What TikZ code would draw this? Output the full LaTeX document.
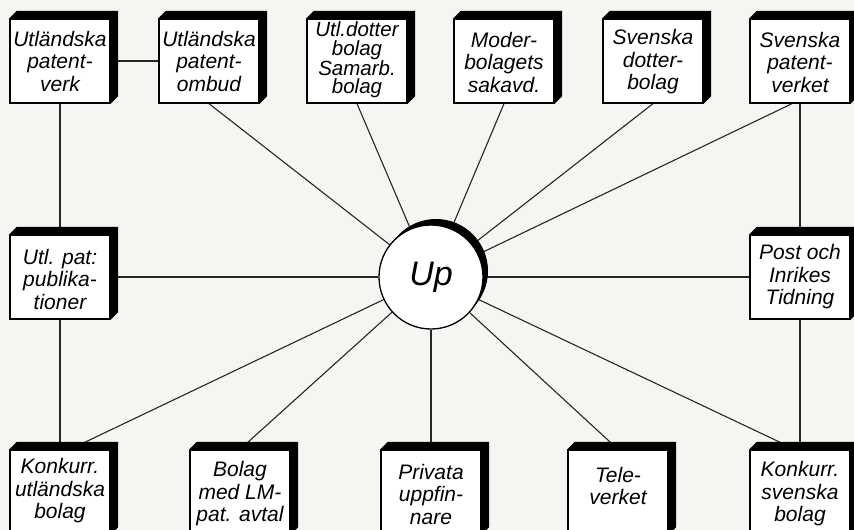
\documentclass[tikz,border=0pt]{standalone}
\usepackage{fontspec}
\setmainfont{Liberation Sans}
\usetikzlibrary{calc}
\pgfdeclarelayer{bg}
\pgfdeclarelayer{paperlayer}
\pgfsetlayers{paperlayer,bg,main}
\definecolor{paper}{RGB}{245,245,242}
\tikzset{
  box/.style={draw=black, line width=1.3pt, fill=white, minimum width=100pt, minimum height=84pt, inner sep=0pt},
  lbl/.style={align=center, font=\fontsize{21}{22.5}\selectfont\itshape, inner sep=0pt},
  lblfour/.style={align=center, font=\fontsize{20.5}{18.5}\selectfont\itshape, inner sep=0pt},
  conn/.style={line width=1.1pt, black!85},
  shade/.style={fill=black},
  hub/.style={circle, draw=black, line width=1.3pt, fill=white, minimum size=104pt, inner sep=0pt, font=\fontsize{34}{34}\selectfont\itshape},
}
\newcommand{\boxshade}[1]{\fill[shade] (#1.north west) -- ($(#1.north west)+(7.5,-7.5)$) -- ($(#1.north east)+(7.5,-7.5)$) -- ($(#1.south east)+(7.5,-7.5)$) -- (#1.south east) -- (#1.north east) -- cycle;}
\begin{document}
\begin{tikzpicture}[x=1pt,y=-1pt]
\useasboundingbox (0,0) rectangle (854,530);
\clip (0,0) rectangle (854,530);
\begin{pgfonlayer}{paperlayer}
\fill[paper] (0,0) rectangle (854,530);
\end{pgfonlayer}

% boxes
\node[box] (t1) at (60,61) {};
\node[box] (t2) at (209,61) {};
\node[box] (t3) at (357,61) {};
\node[box] (t4) at (504,61) {};
\node[box] (t5) at (653,61) {};
\node[box] (t6) at (800,61) {};
\node[box] (m1) at (60,277) {};
\node[box] (m2) at (800,277) {};
\node[box] (b1) at (60,492) {};
\node[box] (b2) at (240,492) {};
\node[box] (b3) at (431,492) {};
\node[box] (b4) at (618,492) {};
\node[box] (b5) at (800,492) {};

% hub with crescent shadow
\fill[black] (436,271) circle [radius=52];
\node[hub] (Up) at (431,277) {Up};

% labels
\node[lbl] (t1l) at (60,61) {Utländska\\patent-\\verk};
\node[lbl] (t2l) at (209,61) {Utländska\\patent-\\ombud};
\node[lblfour] (t3l) at (357,60) {Utl.dotter\\bolag\\Samarb.\\bolag};
\node[lbl] (t4l) at (504,62) {Moder-\\bolagets\\sakavd.};
\node[lbl] (t5l) at (653,62) {Svenska\\dotter-\\bolag};
\node[lbl] (t6l) at (800,62) {Svenska\\patent-\\verket};
\node[lbl] (m1l) at (60,279) {Utl. pat:\\publika-\\tioner};
\node[lbl] (m2l) at (800,277) {Post och\\Inrikes\\Tidning};
\node[lbl] (b1l) at (60,491) {Konkurr.\\utländska\\bolag};
\node[lbl] (b2l) at (240,494) {Bolag\\med LM-\\pat. avtal};
\node[lbl] (b3l) at (431,494) {Privata\\uppfin-\\nare};
\node[lbl] (b4l) at (618,486) {Tele-\\verket};
\node[lbl] (b5l) at (800,494) {Konkurr.\\svenska\\bolag};

% connectors
\begin{pgfonlayer}{bg}
\draw[conn] (t1) -- (t2);
\draw[conn] (t1) -- (m1);
\draw[conn] (m1) -- (b1);
\draw[conn] (t6) -- (m2);
\draw[conn] (m2) -- (b5);
\draw[conn] (m1) -- (Up);
\draw[conn] (m2) -- (Up);
\draw[conn] (t2.south) -- (Up);
\draw[conn] (t3.south) -- (Up);
\draw[conn] (t4.south) -- (Up);
\draw[conn] (t5.south) -- (Up);
\draw[conn] ([xshift=-8pt]t6.south) -- (Up);
\draw[conn] ([xshift=10pt]b1.north) -- (Up);
\draw[conn] (b2.north) -- (Up);
\draw[conn] (b3) -- (Up);
\draw[conn] (b4.north) -- (Up);
\draw[conn] ([xshift=-5pt]b5.north) -- (Up);
\end{pgfonlayer}

% box shadows
\foreach \n in {t1,t2,t3,t4,t5,t6,m1,m2,b1,b2,b3,b4,b5}{\boxshade{\n}}
\end{tikzpicture}
\end{document}
